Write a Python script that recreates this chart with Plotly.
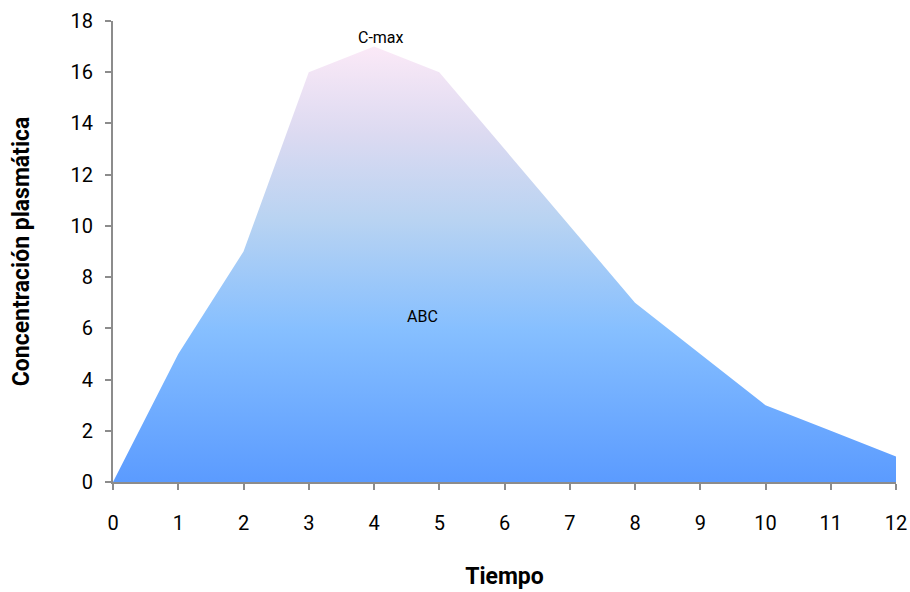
import plotly.graph_objects as go

# Plasma concentration over time
tiempo = [0, 1, 2, 3, 4, 5, 6, 7, 8, 9, 10, 11, 12]
concentracion = [0, 5, 9, 16, 17, 16, 13, 10, 7, 5, 3, 2, 1]
y_ticks = [0, 2, 4, 6, 8, 10, 12, 14, 16, 18]

FONT = "Roboto, Arial, sans-serif"

fig = go.Figure()
fig.add_trace(go.Scatter(
    x=tiempo, y=concentracion,
    mode="lines",
    line=dict(width=0, color="rgba(0,0,0,0)"),
    fill="tozeroy",
    fillgradient=dict(
        type="vertical",
        start=0, stop=17,
        colorscale=[
            [0.0, "#5b9bff"],
            [0.35, "#86bfff"],
            [0.6, "#b8d3f2"],
            [0.8, "#dcdaf1"],
            [1.0, "#fbe9f7"],
        ],
    ),
    hoverinfo="x+y",
    showlegend=False,
))

fig.add_annotation(x=4.1, y=17, text="C-max", showarrow=False, yshift=9,
                   font=dict(family=FONT, size=16, color="#000"))
fig.add_annotation(x=4.75, y=6.45, text="ABC", showarrow=False,
                   font=dict(family=FONT, size=16, color="#000"))

axis_common = dict(
    showgrid=False, zeroline=False,
    showline=True, linecolor="#8c8c8c", linewidth=2,
    ticks="outside", tickcolor="#8c8c8c", ticklen=6, tickwidth=2,
    tickfont=dict(family=FONT, size=20, color="#000"),
    automargin=False,
)

fig.update_xaxes(range=[0, 12], tickvals=tiempo, ticktext=[str(t) for t in tiempo],
                 ticklabelstandoff=16,
                 title=dict(text="<b>Tiempo</b>", font=dict(family=FONT, size=23, color="#000"),
                            standoff=34),
                 **axis_common)
fig.update_yaxes(range=[0, 18], tickvals=y_ticks,
                 ticklabelstandoff=8,
                 title=dict(text="<b>Concentración plasmática</b>",
                            font=dict(family=FONT, size=23, color="#000"), standoff=34),
                 **axis_common)

fig.update_layout(
    width=910, height=592,
    margin=dict(l=113, r=14, t=21, b=110),
    plot_bgcolor="white", paper_bgcolor="white",
)

fig.write_html("out.html")
